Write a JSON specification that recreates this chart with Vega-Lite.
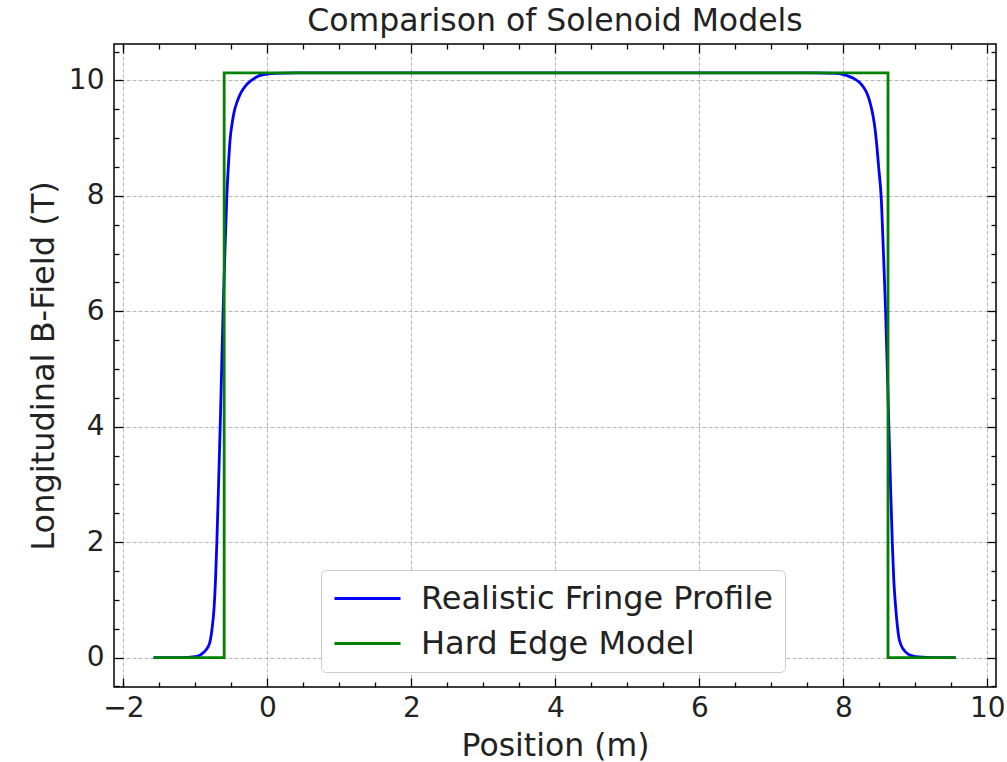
{
  "$schema": "https://vega.github.io/schema/vega-lite/v6.json",
  "width": 882,
  "height": 643,
  "autosize": "none",
  "padding": {"left": 114, "top": 44, "right": 11, "bottom": 75},
  "background": "white",
  "config": {
    "font": "DejaVu Sans",
    "view": {"stroke": "black", "strokeWidth": 1.5},
    "axis": {"domain": false, "labelFont": "DejaVu Sans", "titleFont": "DejaVu Sans", "labelColor": "#222222", "titleColor": "#222222", "titleFontWeight": "normal", "tickColor": "black", "tickWidth": 1.3}
  },
  "title": {"text": "Comparison of Solenoid Models", "fontSize": 31.5, "fontWeight": "normal", "font": "DejaVu Sans", "color": "#222222", "offset": 6},
  "datasets": {
    "blue": [
      {"i": 1, "series": "Realistic Fringe Profile", "x": -1.58, "y": 0},
      {"i": 2, "series": "Realistic Fringe Profile", "x": -1.3, "y": 0},
      {"i": 3, "series": "Realistic Fringe Profile", "x": -1.1, "y": 0.005},
      {"i": 4, "series": "Realistic Fringe Profile", "x": -1.0, "y": 0.015},
      {"i": 5, "series": "Realistic Fringe Profile", "x": -0.924, "y": 0.05},
      {"i": 6, "series": "Realistic Fringe Profile", "x": -0.854, "y": 0.13},
      {"i": 7, "series": "Realistic Fringe Profile", "x": -0.8, "y": 0.26},
      {"i": 8, "series": "Realistic Fringe Profile", "x": -0.77, "y": 0.48},
      {"i": 9, "series": "Realistic Fringe Profile", "x": -0.739, "y": 0.88},
      {"i": 10, "series": "Realistic Fringe Profile", "x": -0.72, "y": 1.35},
      {"i": 11, "series": "Realistic Fringe Profile", "x": -0.702, "y": 1.98},
      {"i": 12, "series": "Realistic Fringe Profile", "x": -0.68, "y": 2.9},
      {"i": 13, "series": "Realistic Fringe Profile", "x": -0.656, "y": 3.97},
      {"i": 14, "series": "Realistic Fringe Profile", "x": -0.635, "y": 5.0},
      {"i": 15, "series": "Realistic Fringe Profile", "x": -0.615, "y": 5.99},
      {"i": 16, "series": "Realistic Fringe Profile", "x": -0.59, "y": 7.0},
      {"i": 17, "series": "Realistic Fringe Profile", "x": -0.564, "y": 7.96},
      {"i": 18, "series": "Realistic Fringe Profile", "x": -0.54, "y": 8.55},
      {"i": 19, "series": "Realistic Fringe Profile", "x": -0.518, "y": 8.97},
      {"i": 20, "series": "Realistic Fringe Profile", "x": -0.49, "y": 9.25},
      {"i": 21, "series": "Realistic Fringe Profile", "x": -0.462, "y": 9.45},
      {"i": 22, "series": "Realistic Fringe Profile", "x": -0.42, "y": 9.63},
      {"i": 23, "series": "Realistic Fringe Profile", "x": -0.37, "y": 9.78},
      {"i": 24, "series": "Realistic Fringe Profile", "x": -0.3, "y": 9.91},
      {"i": 25, "series": "Realistic Fringe Profile", "x": -0.231, "y": 9.99},
      {"i": 26, "series": "Realistic Fringe Profile", "x": -0.15, "y": 10.06},
      {"i": 27, "series": "Realistic Fringe Profile", "x": -0.047, "y": 10.1},
      {"i": 28, "series": "Realistic Fringe Profile", "x": 0.1, "y": 10.12},
      {"i": 29, "series": "Realistic Fringe Profile", "x": 0.4, "y": 10.13},
      {"i": 30, "series": "Realistic Fringe Profile", "x": 4.0, "y": 10.13},
      {"i": 31, "series": "Realistic Fringe Profile", "x": 7.6, "y": 10.13},
      {"i": 32, "series": "Realistic Fringe Profile", "x": 7.9, "y": 10.12},
      {"i": 33, "series": "Realistic Fringe Profile", "x": 8.0, "y": 10.1},
      {"i": 34, "series": "Realistic Fringe Profile", "x": 8.079, "y": 10.07},
      {"i": 35, "series": "Realistic Fringe Profile", "x": 8.15, "y": 10.03},
      {"i": 36, "series": "Realistic Fringe Profile", "x": 8.218, "y": 9.97},
      {"i": 37, "series": "Realistic Fringe Profile", "x": 8.28, "y": 9.88},
      {"i": 38, "series": "Realistic Fringe Profile", "x": 8.333, "y": 9.76},
      {"i": 39, "series": "Realistic Fringe Profile", "x": 8.37, "y": 9.62},
      {"i": 40, "series": "Realistic Fringe Profile", "x": 8.402, "y": 9.45},
      {"i": 41, "series": "Realistic Fringe Profile", "x": 8.43, "y": 9.25},
      {"i": 42, "series": "Realistic Fringe Profile", "x": 8.457, "y": 8.97},
      {"i": 43, "series": "Realistic Fringe Profile", "x": 8.49, "y": 8.5},
      {"i": 44, "series": "Realistic Fringe Profile", "x": 8.526, "y": 7.96},
      {"i": 45, "series": "Realistic Fringe Profile", "x": 8.557, "y": 7.0},
      {"i": 46, "series": "Realistic Fringe Profile", "x": 8.587, "y": 5.99},
      {"i": 47, "series": "Realistic Fringe Profile", "x": 8.61, "y": 5.0},
      {"i": 48, "series": "Realistic Fringe Profile", "x": 8.633, "y": 3.97},
      {"i": 49, "series": "Realistic Fringe Profile", "x": 8.657, "y": 2.9},
      {"i": 50, "series": "Realistic Fringe Profile", "x": 8.68, "y": 1.98},
      {"i": 51, "series": "Realistic Fringe Profile", "x": 8.7, "y": 1.35},
      {"i": 52, "series": "Realistic Fringe Profile", "x": 8.726, "y": 0.88},
      {"i": 53, "series": "Realistic Fringe Profile", "x": 8.75, "y": 0.55},
      {"i": 54, "series": "Realistic Fringe Profile", "x": 8.772, "y": 0.34},
      {"i": 55, "series": "Realistic Fringe Profile", "x": 8.8, "y": 0.22},
      {"i": 56, "series": "Realistic Fringe Profile", "x": 8.841, "y": 0.13},
      {"i": 57, "series": "Realistic Fringe Profile", "x": 8.9, "y": 0.06},
      {"i": 58, "series": "Realistic Fringe Profile", "x": 8.957, "y": 0.03},
      {"i": 59, "series": "Realistic Fringe Profile", "x": 9.05, "y": 0.01},
      {"i": 60, "series": "Realistic Fringe Profile", "x": 9.25, "y": 0},
      {"i": 61, "series": "Realistic Fringe Profile", "x": 9.56, "y": 0}
    ],
    "green": [
      {"i": 1, "series": "Hard Edge Model", "x": -1.58, "y": 0},
      {"i": 2, "series": "Hard Edge Model", "x": -0.6, "y": 0},
      {"i": 3, "series": "Hard Edge Model", "x": -0.6, "y": 10.13},
      {"i": 4, "series": "Hard Edge Model", "x": 8.62, "y": 10.13},
      {"i": 5, "series": "Hard Edge Model", "x": 8.62, "y": 0},
      {"i": 6, "series": "Hard Edge Model", "x": 9.56, "y": 0}
    ]
  },
  "resolve": {"axis": {"x": "independent", "y": "independent"}},
  "layer": [
    {
      "data": {"name": "blue"},
      "mark": {"type": "line", "interpolate": "monotone", "strokeWidth": 2.8, "clip": true},
      "encoding": {
        "x": {"field": "x", "type": "quantitative", "scale": {"domain": [-2.13, 10.12], "nice": false, "zero": false},
          "axis": {"orient": "bottom", "values": [-2, 0, 2, 4, 6, 8, 10], "tickSize": -9, "labelPadding": 16, "labelFontSize": 28, "title": "Position (m)", "titleFontSize": 31.5, "titlePadding": 8, "grid": true, "gridColor": "#b0b0b0", "gridDash": [4, 2], "gridWidth": 0.9}},
        "y": {"field": "y", "type": "quantitative", "scale": {"domain": [-0.51, 10.63], "nice": false, "zero": false},
          "axis": {"orient": "left", "values": [0, 2, 4, 6, 8, 10], "tickSize": -9, "labelPadding": 19, "labelFontSize": 28, "title": "Longitudinal B-Field (T)", "titleFontSize": 32, "titlePadding": 8, "grid": true, "gridColor": "#b0b0b0", "gridDash": [4, 2], "gridWidth": 0.9}},
        "color": {"field": "series", "type": "nominal",
          "scale": {"domain": ["Realistic Fringe Profile", "Hard Edge Model"], "range": ["#0000ff", "#008000"]},
          "legend": {"orient": "none", "legendX": 207, "legendY": 526, "title": null, "labelFontSize": 32, "labelFont": "DejaVu Sans", "labelColor": "#222222", "labelLimit": 600, "symbolType": "M-2.2,0H2.2", "symbolSize": 900, "symbolStrokeWidth": 3, "symbolOffset": 18, "rowPadding": 12, "labelOffset": 37, "padding": 12, "fillColor": "white", "strokeColor": "#cccccc", "cornerRadius": 5}},
        "order": {"field": "i", "type": "quantitative"}
      }
    },
    {
      "data": {"name": "green"},
      "mark": {"type": "line", "strokeWidth": 2.8, "clip": true},
      "encoding": {
        "x": {"field": "x", "type": "quantitative", "axis": {"orient": "bottom", "values": [-2, -1.5, -1, -0.5, 0.5, 1, 1.5, 2.5, 3, 3.5, 4.5, 5, 5.5, 6.5, 7, 7.5, 8.5, 9, 9.5], "tickSize": -5, "labels": false, "title": null, "grid": false}},
        "y": {"field": "y", "type": "quantitative", "axis": {"orient": "left", "values": [-0.5, 0.5, 1, 1.5, 2.5, 3, 3.5, 4.5, 5, 5.5, 6.5, 7, 7.5, 8.5, 9, 9.5, 10.5], "tickSize": -5, "labels": false, "title": null, "grid": false}},
        "color": {"field": "series", "type": "nominal"},
        "order": {"field": "i", "type": "quantitative"}
      }
    },
    {
      "data": {"name": "green"},
      "mark": {"type": "line", "strokeOpacity": 0},
      "encoding": {
        "x": {"field": "x", "type": "quantitative", "axis": {"orient": "top", "values": [-2, 0, 2, 4, 6, 8, 10], "tickSize": -9, "labels": false, "title": null, "grid": false}},
        "y": {"field": "y", "type": "quantitative", "axis": {"orient": "right", "values": [0, 2, 4, 6, 8, 10], "tickSize": -9, "labels": false, "title": null, "grid": false}},
        "order": {"field": "i", "type": "quantitative"}
      }
    },
    {
      "data": {"name": "green"},
      "mark": {"type": "line", "strokeOpacity": 0},
      "encoding": {
        "x": {"field": "x", "type": "quantitative", "axis": {"orient": "top", "values": [-2, -1.5, -1, -0.5, 0.5, 1, 1.5, 2.5, 3, 3.5, 4.5, 5, 5.5, 6.5, 7, 7.5, 8.5, 9, 9.5], "tickSize": -5, "labels": false, "title": null, "grid": false}},
        "y": {"field": "y", "type": "quantitative", "axis": {"orient": "right", "values": [-0.5, 0.5, 1, 1.5, 2.5, 3, 3.5, 4.5, 5, 5.5, 6.5, 7, 7.5, 8.5, 9, 9.5, 10.5], "tickSize": -5, "labels": false, "title": null, "grid": false}},
        "order": {"field": "i", "type": "quantitative"}
      }
    }
  ]
}
